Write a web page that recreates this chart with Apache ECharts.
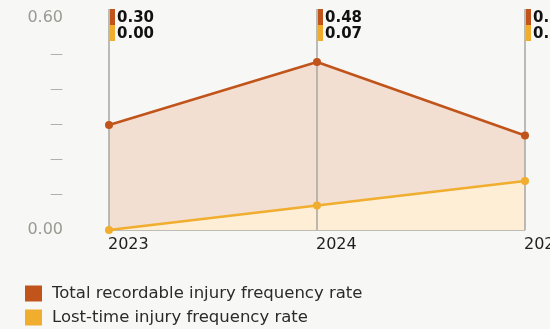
<!DOCTYPE html>
<html>
<head>
<meta charset="utf-8">
<script src="https://cdn.jsdelivr.net/npm/echarts@6/dist/echarts.min.js"></script>
<style>
  html, body { margin: 0; padding: 0; background: #f7f7f5; }
  #chart { width: 550px; height: 329px; }
</style>
</head>
<body>
<div id="chart"></div>
<script>
// Injury frequency rates by year
var years = ['2023', '2024', '2025'];
var trifr = [0.30, 0.48, 0.27];
var ltifr = [0.00, 0.07, 0.14];
var yTicks = [0, 0.1, 0.2, 0.3, 0.4, 0.5, 0.6];

var NAME_TR = 'Total recordable injury frequency rate';
var NAME_LT = 'Lost-time injury frequency rate';
var ORANGE = '#c1541b';
var YELLOW = '#f0ad2e';
var FONT = '"DejaVu Sans", sans-serif';

var chart = echarts.init(document.getElementById('chart'));

var labelData = years.map(function (y, i) { return [i, trifr[i], ltifr[i]]; });

chart.setOption({
  backgroundColor: '#f7f7f5',
  animation: false,
  grid: { left: 109, right: 25, top: 20, bottom: 99, containLabel: false, outerBoundsMode: 'none' },
  legend: {
    orient: 'vertical',
    left: 25,
    top: 285,
    itemWidth: 17,
    itemHeight: 16,
    itemGap: 7,
    padding: 0,
    textStyle: { fontFamily: FONT, fontSize: 16.5, color: '#2a2a2a', padding: [0, 0, 0, 5] },
    data: [
      { name: NAME_TR, icon: 'rect', itemStyle: { color: ORANGE } },
      { name: NAME_LT, icon: 'rect', itemStyle: { color: YELLOW } }
    ]
  },
  xAxis: {
    type: 'category',
    data: years,
    boundaryGap: false,
    axisLine: { show: true, lineStyle: { color: '#bdbdb6', width: 1 } },
    axisTick: { show: false },
    axisLabel: { align: 'left', margin: 7, fontFamily: FONT, fontSize: 16, color: '#1e1e1e', padding: [0, 0, 0, -1] },
    splitLine: { show: false }
  },
  yAxis: {
    type: 'value',
    min: 0,
    max: 0.6,
    interval: 0.1,
    axisLine: { show: false },
    axisTick: { show: false },
    splitLine: { show: false },
    axisLabel: {
      margin: 46,
      fontFamily: FONT,
      fontSize: 16,
      color: '#9a9a94',
      formatter: function (v) {
        var i = yTicks.indexOf(Math.round(v * 10) / 10);
        if (i === 0) return '0.00';
        if (i === yTicks.length - 1) return '{t|' + v.toFixed(2) + '}';
        return '{d|—}';
      },
      rich: {
        d: { color: '#a9a9a2', fontSize: 13, fontFamily: FONT },
        t: { color: '#9a9a94', fontSize: 16, fontFamily: FONT, padding: [0, 0, 4, 0] }
      }
    }
  },
  series: [
    {
      name: NAME_TR, type: 'line', data: trifr, z: 1, silent: true,
      symbol: 'none', lineStyle: { width: 0 },
      itemStyle: { color: ORANGE },
      areaStyle: { color: '#f2dfd2', opacity: 1 }
    },
    {
      name: NAME_LT, type: 'line', data: ltifr, z: 1, silent: true,
      symbol: 'none', lineStyle: { width: 0 },
      itemStyle: { color: YELLOW },
      areaStyle: { color: '#fdeed5', opacity: 1 }
    },
    {
      type: 'custom',
      z: 2,
      silent: true,
      clip: false,
      data: labelData,
      renderItem: function (params, api) {
        var i = api.value(0);
        var base = api.coord([i, 0]);
        var x = base[0];
        var top = params.coordSys.y - 11;
        var h = 16;
        return {
          type: 'group',
          children: [
            { type: 'line', shape: { x1: x, y1: top, x2: x, y2: base[1] },
              style: { stroke: '#a6a6a0', lineWidth: 1.5 } },
            { type: 'rect', shape: { x: x + 1, y: top, width: 5, height: h },
              style: { fill: ORANGE } },
            { type: 'rect', shape: { x: x + 1, y: top + h, width: 5, height: h },
              style: { fill: YELLOW } },
            { type: 'text', style: { x: x + 8, y: top + h / 2 + 1, text: api.value(1).toFixed(2),
              verticalAlign: 'middle', font: 'bold 15px ' + FONT, fill: '#111' } },
            { type: 'text', style: { x: x + 8, y: top + h * 1.5 + 1, text: api.value(2).toFixed(2),
              verticalAlign: 'middle', font: 'bold 15px ' + FONT, fill: '#111' } }
          ]
        };
      }
    },
    {
      name: NAME_TR, type: 'line', data: trifr, z: 3,
      symbol: 'circle', symbolSize: 8,
      lineStyle: { color: ORANGE, width: 2.5 },
      itemStyle: { color: ORANGE }
    },
    {
      name: NAME_LT, type: 'line', data: ltifr, z: 3,
      symbol: 'circle', symbolSize: 8,
      lineStyle: { color: YELLOW, width: 2.5 },
      itemStyle: { color: YELLOW }
    }
  ]
});
</script>
</body>
</html>
